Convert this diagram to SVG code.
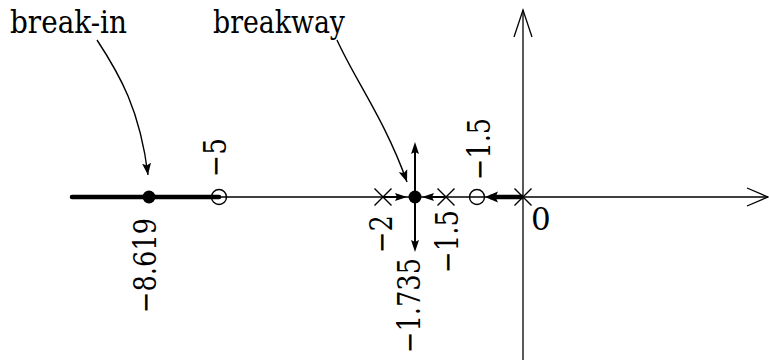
<svg xmlns="http://www.w3.org/2000/svg" width="769" height="360" viewBox="0 0 769 360">
<style>
.ax{stroke:#000;stroke-width:1.3;fill:none}
.thin{stroke:#000;stroke-width:1.4;fill:none}
.med{stroke:#000;stroke-width:2;fill:none}
.thick{stroke:#000;stroke-width:4.5;fill:none;stroke-linecap:round}
.cross{stroke:#000;stroke-width:1.4;fill:none}
.zero{stroke:#000;stroke-width:1.4;fill:none}
.dot{fill:#000}
.lbl{font-family:'DejaVu Serif','Liberation Serif',serif;font-size:31px;fill:#000}
</style>
<defs>
<marker id="ah" markerWidth="14" markerHeight="12" refX="12" refY="5" orient="auto" markerUnits="userSpaceOnUse">
<path d="M0,0.5 L12,5 L0,9.5 L2.5,5 Z" fill="#000"/>
</marker>
<marker id="ahM" markerWidth="14" markerHeight="12" refX="8" refY="4.5" orient="auto" markerUnits="userSpaceOnUse">
<path d="M0,0.5 L12,4.5 L0,8.5 L2,4.5 Z" fill="#000"/>
</marker>
<marker id="ahT" markerWidth="16" markerHeight="14" refX="8" refY="6" orient="auto" markerUnits="userSpaceOnUse">
<path d="M0,0.5 L13,6 L0,11.5 L2.5,6 Z" fill="#000"/>
</marker>
</defs>

<g id="axes">
<line class="ax" x1="72" y1="197" x2="768" y2="197"/>
<polyline class="ax" points="747,188 768,197 747,206"/>
<line class="ax" x1="523" y1="360" x2="523" y2="10"/>
<polyline class="ax" points="514,37 523,10 532,37"/>
</g>

<g id="locus">
<line class="thick" x1="72" y1="197" x2="219" y2="197"/>
</g>

<g id="connectors">
<path class="thin" d="M97,40 C120,75 140,110 148,175" marker-end="url(#ah)"/>
<path class="thin" d="M337,40 C355,80 385,120 407,182" marker-end="url(#ah)"/>
<line class="med" x1="415" y1="197" x2="415" y2="146" marker-end="url(#ahM)"/>
<line class="med" x1="415" y1="197" x2="415" y2="248" marker-end="url(#ahM)"/>
<line class="med" x1="383" y1="197" x2="403" y2="197" marker-end="url(#ahM)"/>
<line class="med" x1="446" y1="197" x2="426" y2="197" marker-end="url(#ahM)"/>
<line style="stroke:#000;stroke-width:4.5;fill:none" x1="523" y1="197" x2="490" y2="197" marker-end="url(#ahT)"/>
</g>

<g id="pole-m2">
<path class="cross" d="M374.5,188.5 L391.5,205.5 M374.5,205.5 L391.5,188.5"/>
<text class="lbl" transform="translate(392,253) rotate(-90)" textLength="38" lengthAdjust="spacingAndGlyphs">−2</text>
</g>
<g id="pole-m1_5">
<path class="cross" d="M437.5,188.5 L454.5,205.5 M437.5,205.5 L454.5,188.5"/>
<text class="lbl" transform="translate(458,273) rotate(-90)" textLength="63" lengthAdjust="spacingAndGlyphs">−1.5</text>
</g>
<g id="pole-0">
<path class="cross" d="M514.5,188.5 L531.5,205.5 M514.5,205.5 L531.5,188.5"/>
<text class="lbl" x="531" y="230">0</text>
</g>
<g id="zero-m5">
<circle class="zero" cx="219" cy="197" r="7.5"/>
<text class="lbl" transform="translate(226,177) rotate(-90)" textLength="39" lengthAdjust="spacingAndGlyphs">−5</text>
</g>
<g id="zero-m1_5">
<circle class="zero" cx="477" cy="197" r="7.5"/>
<text class="lbl" transform="translate(490,180) rotate(-90)" textLength="62" lengthAdjust="spacingAndGlyphs">−1.5</text>
</g>
<g id="breakin-point">
<circle class="dot" cx="149" cy="197" r="6.5"/>
<text class="lbl" transform="translate(156,313) rotate(-90)" textLength="95" lengthAdjust="spacingAndGlyphs">−8.619</text>
</g>
<g id="breakaway-point">
<circle class="dot" cx="415" cy="197" r="6.5"/>
<text class="lbl" transform="translate(420,353) rotate(-90)" textLength="95" lengthAdjust="spacingAndGlyphs">−1.735</text>
</g>
<g id="label-breakin">
<text class="lbl" x="10" y="33" textLength="117" lengthAdjust="spacingAndGlyphs">break-in</text>
</g>
<g id="label-breakaway">
<text class="lbl" x="213" y="33" textLength="132" lengthAdjust="spacingAndGlyphs">breakway</text>
</g>
</svg>
